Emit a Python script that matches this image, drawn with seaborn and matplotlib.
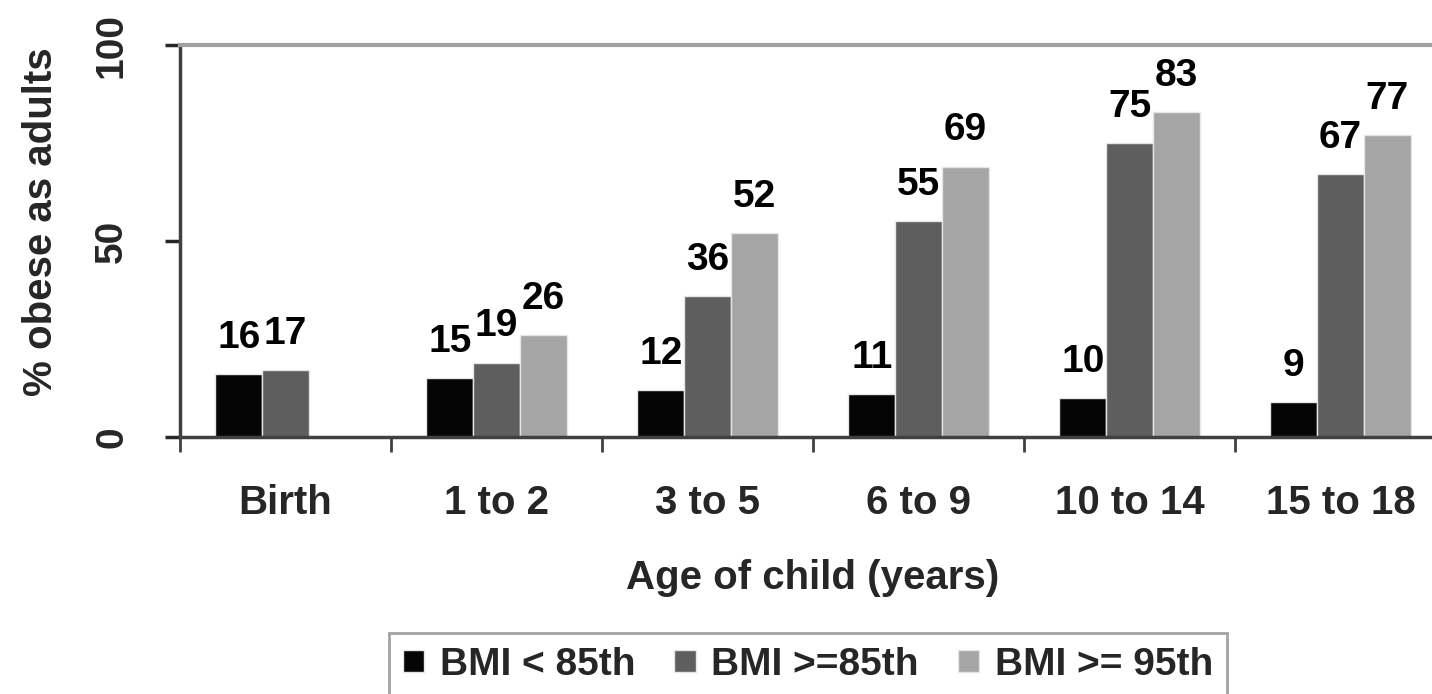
import numpy as np
import pandas as pd
import matplotlib
matplotlib.use("Agg")
import matplotlib.pyplot as plt
import seaborn as sns

# Share of children in each BMI band who went on to be obese as adults
ages = ["Birth", "1 to 2", "3 to 5", "6 to 9", "10 to 14", "15 to 18"]
bmi_below_85 = [16, 15, 12, 11, 10, 9]
bmi_at_least_85 = [17, 19, 36, 55, 75, 67]
bmi_at_least_95 = [None, 26, 52, 69, 83, 77]
groups = ["BMI < 85th", "BMI >=85th", "BMI >= 95th"]
y_ticks = [0, 50, 100]

sns.set_style("white")
plt.rcParams["font.family"] = ["Liberation Sans", "DejaVu Sans"]
plt.rcParams["font.weight"] = "bold"

df = pd.DataFrame({
    "age": ages,
    groups[0]: bmi_below_85,
    groups[1]: bmi_at_least_85,
    groups[2]: bmi_at_least_95,
})
long = df.melt(id_vars="age", var_name="group", value_name="pct").dropna()

W, H = 1432, 694
fig = plt.figure(figsize=(W / 100, H / 100), dpi=100)
# plot area runs slightly past the right edge of the canvas
ax = fig.add_axes([180 / W, 1 - 437 / H, 1266 / W, 392 / H])

palette = dict(zip(groups, ["#050505", "#5e5e5e", "#a5a5a5"]))
sns.barplot(data=long, x="age", y="pct", hue="group", order=ages,
            hue_order=groups, palette=palette, width=0.665, saturation=1,
            edgecolor="#e6e6e6", linewidth=1, ax=ax)

handles, labels = ax.get_legend_handles_labels()
if ax.get_legend() is not None:
    ax.get_legend().remove()

FS = 29
for cont in ax.containers:
    ax.bar_label(cont, fmt="%.0f", padding=13, fontsize=28,
                 fontweight="bold", color="black")

# y axis
ax.set_ylim(0, 100)
ax.set_yticks(y_ticks)
ax.set_yticklabels([str(t) for t in y_ticks], rotation=90, va="center",
                   fontsize=28, fontweight="bold")
ax.tick_params(axis="y", left=True, length=11, width=2.5, pad=25)
yt = ax.yaxis.get_major_ticks()
yt[0].tick1line.set_color("#404040")
yt[1].tick1line.set_color("#b5b5b5")
yt[2].tick1line.set_color("#a0a0a0")

# x axis: category labels at centres, tick marks between groups
ax.set_xlim(-0.5, 5.5)
ax.set_xticks(range(len(ages)))
ax.set_xticklabels(ages, fontsize=FS, fontweight="bold")
ax.tick_params(axis="x", which="major", length=0, pad=34)
ax.set_xticks(np.arange(-0.5, len(ages), 1.0), minor=True)
ax.tick_params(axis="x", which="minor", bottom=True, length=11, width=2,
               color="#404040")

ax.set_ylabel("% obese as adults", fontsize=FS, fontweight="bold")
ax.yaxis.set_label_coords(-0.095, 0.548)
ax.set_xlabel("Age of child (years)", fontsize=FS, fontweight="bold")
ax.xaxis.set_label_coords(0.5, -0.31)

ax.spines["right"].set_visible(False)
ax.spines["top"].set_color("#a0a0a0")
ax.spines["top"].set_linewidth(3)
ax.spines["left"].set_color("#404040")
ax.spines["left"].set_linewidth(2.5)
ax.spines["bottom"].set_color("#404040")
ax.spines["bottom"].set_linewidth(2.5)

leg = fig.legend(handles, labels, loc="upper center",
                 bbox_to_anchor=(808 / W, 1 - 633 / H), ncol=3,
                 frameon=True, fancybox=False, edgecolor="#8c8c8c",
                 fontsize=28, handlelength=0.55, handleheight=0.5,
                 handletextpad=0.4, columnspacing=1.0, borderpad=0.35,
                 borderaxespad=0)
leg.get_frame().set_linewidth(2)
for t in leg.get_texts():
    t.set_fontweight("bold")

fig.savefig("out.png", dpi=100)
